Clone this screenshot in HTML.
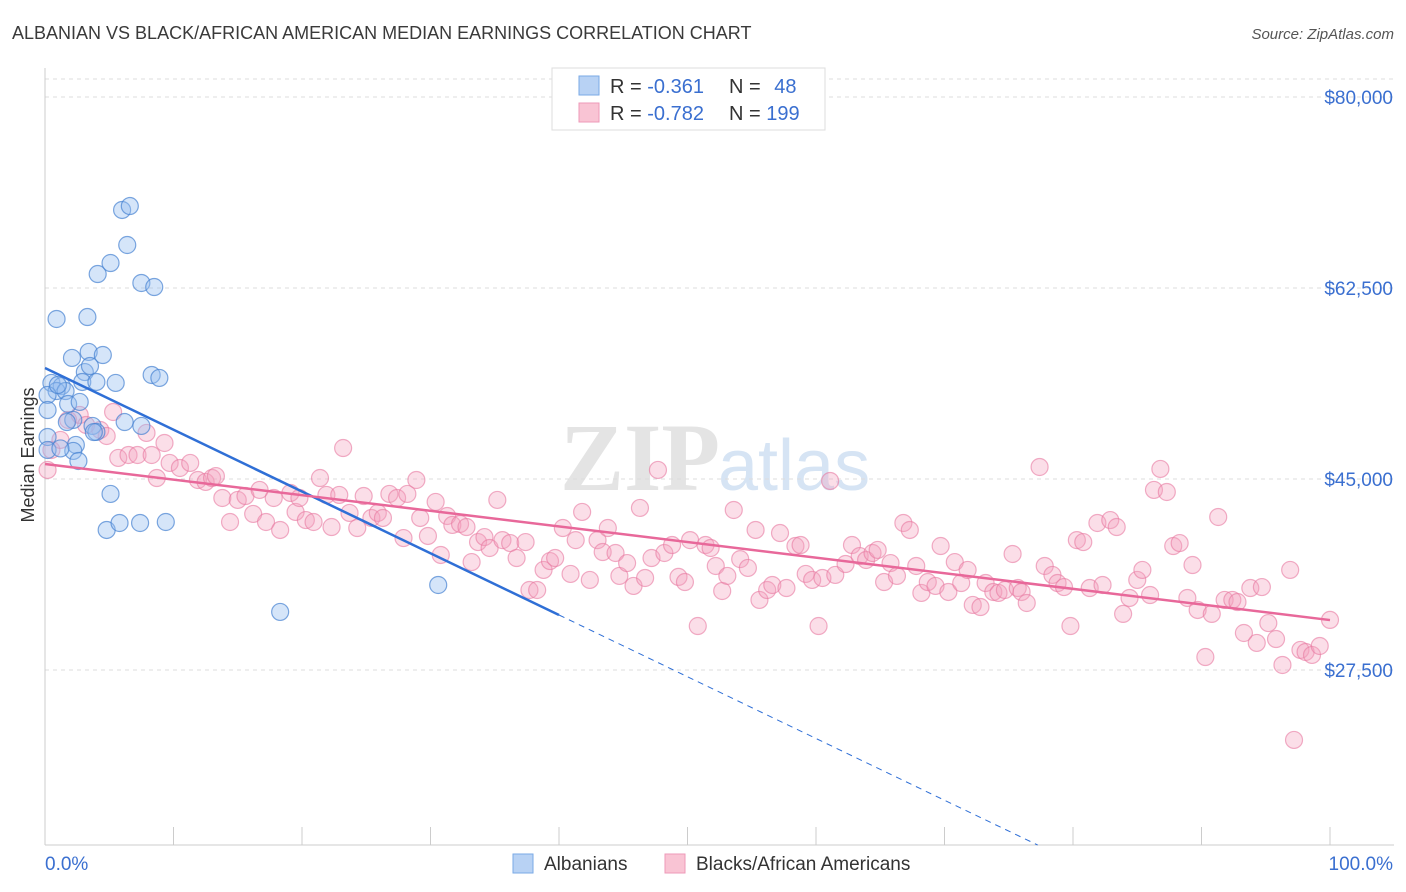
<!DOCTYPE html>
<html><head><meta charset="utf-8"><style>
body{margin:0;background:#fff;font-family:"Liberation Sans",sans-serif;}
svg{display:block}
</style></head><body>
<svg id="chart" width="1406" height="892">
<text x="12" y="39" font-size="18" fill="#3a3a3a">ALBANIAN VS BLACK/AFRICAN AMERICAN MEDIAN EARNINGS CORRELATION CHART</text>
<text x="1394" y="39" font-size="15" fill="#555" text-anchor="end" font-style="italic">Source: ZipAtlas.com</text>
<text x="720" y="490" font-size="96" fill="#e4e4e4" text-anchor="end" font-family="Liberation Serif,serif" font-weight="bold">ZIP</text>
<text x="718" y="490" font-size="72" fill="#d6e4f4">atlas</text>
<g id="grid"></g><g id="axes"></g><g id="marks"></g>
<text transform="translate(34,455) rotate(-90)" font-size="18" fill="#333" text-anchor="middle">Median Earnings</text>
<g>
<rect x="552" y="68" width="273" height="62" fill="#fff" stroke="#ddd"/>
<rect x="579" y="76" width="20" height="19" fill="#b8d2f4" stroke="#7aaae6"/>
<rect x="579" y="103" width="20" height="19" fill="#f9c4d4" stroke="#ee9ab8"/>
<text x="610" y="93" font-size="20" fill="#333">R = <tspan fill="#3a6fd0">-0.361</tspan></text>
<text x="729" y="93" font-size="20" fill="#333">N = <tspan fill="#3a6fd0" dx="8">48</tspan></text>
<text x="610" y="120" font-size="20" fill="#333">R = <tspan fill="#3a6fd0">-0.782</tspan></text>
<text x="729" y="120" font-size="20" fill="#333">N = <tspan fill="#3a6fd0">199</tspan></text>
</g>
<g>
<rect x="513" y="854" width="20" height="19" fill="#b8d2f4" stroke="#7aaae6"/>
<text x="544" y="870" font-size="19" fill="#333">Albanians</text>
<rect x="665" y="854" width="20" height="19" fill="#f9c4d4" stroke="#ee9ab8"/>
<text x="696" y="870" font-size="19" fill="#333">Blacks/African Americans</text>
</g>
</svg>
<script>
const yTicks=[80000,62500,45000,27500];
const yTickLabels=["$80,000","$62,500","$45,000","$27,500"];
const xTickLabels=["0.0%","100.0%"];
const blueX=[0.9,3.3,4.1,5.1,6.0,6.6,6.4,7.5,8.5,2.1,3.4,4.5,3.1,3.5,2.9,4.0,5.5,8.3,8.9,0.5,1.3,0.9,1.6,0.2,1.8,2.7,2.2,1.7,3.7,4.0,6.2,7.5,0.2,0.2,2.4,2.2,2.6,5.1,4.8,5.8,7.4,9.4,18.3,30.6,1.0,0.2,1.2,3.8];
const blueY=[59660,59840,63780,64790,69650,70010,66440,62960,62590,56090,56640,56360,54800,55350,53890,53890,53800,54530,54260,53800,53520,53060,53060,52700,51870,52060,50410,50220,49860,49310,50220,49860,48850,47660,48120,47570,46650,43630,40330,40970,40970,41060,32820,35290,53610,51320,47800,49300];
const pinkX=[0.2,0.5,1.2,1.8,2.7,3.2,4.3,4.8,5.3,5.7,6.5,7.2,7.9,8.3,9.3,8.7,9.7,10.5,11.3,11.9,12.5,13.0,13.3,13.8,14.4,15.0,15.6,16.2,16.7,17.2,17.8,18.3,19.1,19.5,19.8,20.3,20.9,21.4,21.9,22.3,22.9,23.2,23.7,24.3,24.8,25.4,25.9,26.3,26.8,27.4,27.9,28.2,28.9,29.2,29.8,30.4,30.8,31.3,31.7,32.3,32.8,33.2,33.7,34.2,34.6,35.2,35.6,36.2,36.7,37.4,37.7,38.3,38.8,39.3,39.7,40.3,40.9,41.3,41.8,42.4,43.0,43.4,43.8,44.4,44.7,45.3,45.8,46.3,46.7,47.2,47.7,48.2,48.8,49.3,49.8,50.2,50.8,51.4,51.8,52.2,52.7,53.1,53.6,54.1,54.7,55.3,55.6,56.2,56.6,57.2,57.7,58.4,58.8,59.2,59.7,60.2,60.5,61.1,61.5,62.3,62.8,63.4,63.9,64.4,64.8,65.3,65.8,66.3,66.8,67.3,67.8,68.2,68.7,69.3,69.7,70.3,70.8,71.3,71.8,72.2,72.8,73.2,73.8,74.2,74.7,75.3,75.7,76.0,76.4,77.4,77.8,78.4,78.8,79.3,79.8,80.3,80.8,81.3,81.9,82.3,82.9,83.4,83.9,84.4,85.0,85.4,86.0,86.3,86.8,87.3,87.8,88.3,88.9,89.3,89.7,90.3,90.8,91.3,91.8,92.4,92.8,93.3,93.8,94.3,94.7,95.2,95.8,96.3,96.9,97.2,97.7,98.1,98.6,99.2,100];
const pinkY=[45830,47660,48580,50410,50870,49950,49490,48940,51140,46930,47200,47200,49220,47200,48300,45090,46470,46010,46470,44910,44730,45090,45270,43260,41060,43080,43440,41800,44000,41060,43260,40330,43720,41980,43260,41240,41060,45090,43540,40600,43540,47840,41890,40510,43440,41430,41890,41430,43630,43260,39590,43630,44910,41430,39780,42900,38040,41610,40790,40880,40600,37390,39220,39680,38680,43080,39400,39130,37760,39220,34830,34830,36670,37480,37760,40510,36300,39400,41980,35750,39400,38310,40510,38220,36120,37300,35200,42350,35930,37760,45830,38220,38950,36030,35560,39400,31530,38950,38680,37030,34740,36120,42160,37660,36850,40330,33920,34830,35290,40050,35010,38860,38950,36300,35750,31530,35930,44820,36210,37210,38950,37940,37580,38220,38500,35560,37300,36120,40970,40330,37030,34560,35560,35200,38860,34650,37390,35470,36670,33460,33270,35470,34650,34560,34830,38130,35010,34650,33640,46100,37030,36210,35470,35100,31530,39400,39220,35010,40970,35290,41240,40600,32640,34100,35750,36670,34370,44000,45920,43810,38860,39130,34100,37120,33000,28690,32640,41520,33920,33920,33730,30890,35010,29980,35100,31800,30340,27960,36670,21090,29340,29150,28880,29700,32090];
const blueFit=[55170,-565.75];
const pinkFit=[46375,-143.0];

const NS="http://www.w3.org/2000/svg";
const X0=45,X1=1330,Ytop=97,Ppx=191/17500;
function sx(v){return X0+(X1-X0)*v/100;}
function sy(v){return Ytop+(80000-v)*Ppx;}
function mk(tag,attrs,parent){const e=document.createElementNS(NS,tag);for(const k in attrs)e.setAttribute(k,attrs[k]);parent.appendChild(e);return e;}
const grid=document.getElementById('grid'),axes=document.getElementById('axes'),marks=document.getElementById('marks');
let g=mk('line',{x1:45,x2:1394,y1:79,y2:79,stroke:'#ddd','stroke-dasharray':'4,4'},grid);


yTicks.forEach((v,i)=>{
 const l=mk('line',{x1:45,x2:1394,y1:sy(v),y2:sy(v),stroke:'#ddd','stroke-dasharray':'4,4'},grid);
 
 
 const t=mk('text',{x:1393,y:sy(v)+7,'font-size':19,fill:'#3a6fd0','text-anchor':'end'},axes);
 t.textContent=yTickLabels[i];
 
 
});
let ax=mk('line',{x1:45,x2:45,y1:68,y2:845,stroke:'#ccc'},axes);


let bx=mk('line',{x1:45,x2:1394,y1:845,y2:845,stroke:'#ccc'},axes);


for(let i=0;i<=10;i++){
 const t=mk('line',{x1:sx(i*10),x2:sx(i*10),y1:827,y2:845,stroke:'#ccc'},axes);
 
 
}
let xl=mk('text',{x:45,y:870,'font-size':19,fill:'#3a6fd0'},axes);xl.textContent=xTickLabels[0];


let xr=mk('text',{x:1393,y:870,'font-size':19,fill:'#3a6fd0','text-anchor':'end'},axes);xr.textContent=xTickLabels[1];


pinkX.forEach((x,i)=>{
 const c=mk('circle',{cx:sx(x),cy:sy(pinkY[i]),r:8.5,fill:'rgba(244,160,188,0.35)',stroke:'rgba(232,120,160,0.6)','stroke-width':1.2},marks);
 
 
});
blueX.forEach((x,i)=>{
 const c=mk('circle',{cx:sx(x),cy:sy(blueY[i]),r:8.5,fill:'rgba(150,190,240,0.4)',stroke:'rgba(70,130,210,0.7)','stroke-width':1.2},marks);
 
 
});
function fy(f,x){return f[0]+f[1]*x;}
let bl=mk('line',{x1:sx(0),y1:sy(fy(blueFit,0)),x2:sx(40),y2:sy(fy(blueFit,40)),stroke:'#2f6fd6','stroke-width':2.5},marks);


const xe=(11466-blueFit[0])/blueFit[1];
let bd=mk('line',{x1:sx(40),y1:sy(fy(blueFit,40)),x2:sx(xe),y2:sy(fy(blueFit,xe)),stroke:'#2f6fd6','stroke-width':1,'stroke-dasharray':'6,5'},marks);


let pl=mk('line',{x1:sx(0),y1:sy(fy(pinkFit,0)),x2:sx(100),y2:sy(fy(pinkFit,100)),stroke:'#e8689a','stroke-width':2.5},marks);


</script>
</body></html>
